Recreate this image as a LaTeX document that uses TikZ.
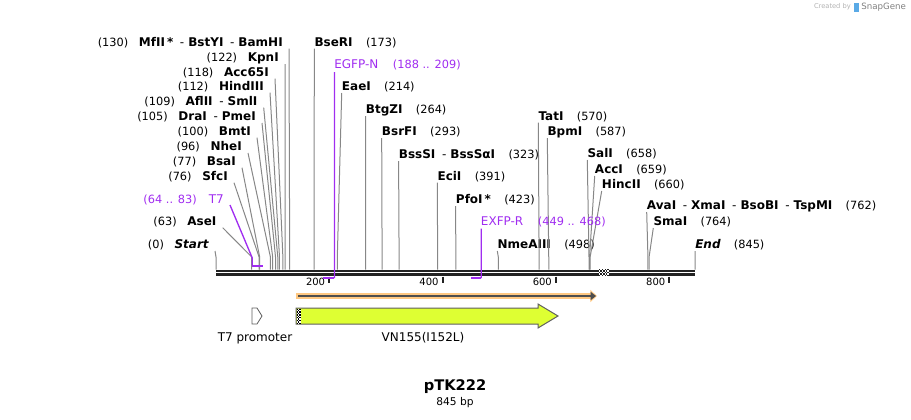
\documentclass[tikz,border=0pt]{standalone}
\usepackage{fontspec}
\setmainfont{DejaVu Sans}
\usepackage{tikz}
\usetikzlibrary{calc,arrows.meta,positioning}

\definecolor{cutgray}{RGB}{135,135,135}
\definecolor{bardark}{RGB}{34,34,34}
\definecolor{primer}{RGB}{160,45,240}
\definecolor{orangefeat}{RGB}{255,200,130}
\definecolor{limefeat}{RGB}{222,255,51}
\definecolor{featline}{RGB}{95,95,95}
\definecolor{sgblue}{RGB}{90,170,230}

\newcommand{\bpnum}[1]{{\fontsize{8.5}{10}\selectfont\mdseries\upshape(#1)}}
\newcommand{\dsep}{\hspace{5pt}\textmd{-}\hspace{3pt}}
% small checker cells, 1.4px each
\newcommand{\checkbox}[5]{%
    \fill[white] (#1,#2) rectangle ({#1+#3*1.4},{#2+#4*1.4});
    \foreach \i in {1,...,#3} {
        \foreach \j in {1,...,#4} {
            \pgfmathtruncatemacro\k{mod(\i+\j,2)}
            \ifnum\k=0
                \fill[#5] ({#1+(\i-1)*1.4},{#2+(\j-1)*1.4}) rectangle ++(1.4,1.4);
            \fi
        }
    }
}

\begin{document}
\begin{tikzpicture}[
    x=0.75pt, y=-0.75pt,
    declare function={bp(\p)=216+0.56686*\p;},
    enz/.style={inner sep=0pt, font=\fontsize{9}{10}\selectfont\bfseries},
    cutline/.style={draw=cutgray, line width=0.75pt},
    primlbl/.style={inner sep=0pt, text=primer, font=\fontsize{9}{10}\selectfont},
    primline/.style={draw=primer, line width=1pt},
    primbar/.style={draw=primer, line width=1.6pt},
    seqbar/.style={draw=bardark, line width=1.7pt},
    tick/.style={draw=bardark, line width=1.5pt},
    featlbl/.style={inner sep=0pt, font=\fontsize{9}{10}\selectfont}
]
    \useasboundingbox (0,0) rectangle (911,419);

    % sequence bar
    \coordinate (seqstart) at (216,271.2);
    \coordinate (seqend) at (695,271.2);
    \draw[seqbar] (seqstart) -- (seqend);
    \draw[seqbar] ($(seqstart)+(0,3.3)$) -- ($(seqend)+(0,3.3)$);
    \checkbox{599}{269}{7}{5}{bardark}

    % ruler
    \foreach \t in {200,400,600,800} {
        \coordinate (tick\t) at ({bp(\t)},276.5);
        \draw[tick] (tick\t) -- ++(0,6.5);
        \node[inner sep=0pt, anchor=east, font=\fontsize{7.5}{9}\selectfont]
            (ruler\t) at ($(tick\t)+(-4,5)$) {\t};
    }

    % cut sites, labels on the left
    \foreach \y/\rx/\p/\nm in {
        42.7/283/130/{MfII\,*\dsep BstYI\dsep BamHI},
        58/279/122/KpnI,
        72.7/269/118/Acc65I,
        86.7/264/112/HindIII,
        101.7/257.7/109/{AflII\dsep SmlI},
        117/256/105/{DraI\dsep PmeI},
        131.7/251/100/BmtI,
        147/242/96/NheI,
        161.7/236/77/BsaI,
        176.7/228/76/SfcI,
        221.7/216.7/63/AseI,
        245/209/0/{{\itshape Start}}} {
        \node[enz, anchor=east] (e\p) at (\rx,\y) {\bpnum{\p}\hspace{8pt}\nm};
        \coordinate (s\p) at ({bp(\p)},269.5);
        \draw[cutline] ($(e\p.east)+(6,6)$) -- ({bp(\p)},257) -- (s\p);
    }

    % cut sites, labels on the right
    \foreach \y/\lx/\p/\nm in {
        42.7/314.3/173/BseRI,
        87/341.7/214/EaeI,
        110/365.7/264/BtgZI,
        132/381.7/293/BsrFI,
        155/398.6/323/{BssSI\dsep BssSαI},
        176.7/437.3/391/EciI,
        200/455.7/423/{PfoI\,*},
        245/497.3/498/NmeAIII,
        116.7/538.3/570/TatI,
        132/547.3/587/BpmI,
        154/587.3/658/SalI,
        170/594.7/659/AccI,
        185/601.7/660/HincII,
        206/646.7/762/{AvaI\dsep XmaI\dsep BsoBI\dsep TspMI},
        222/653.3/764/SmaI,
        245/695/845/{{\itshape End}}} {
        \node[enz, anchor=west] (e\p) at (\lx,\y) {\nm\hspace{10pt}\bpnum{\p}};
        \coordinate (s\p) at ({bp(\p)},269.5);
        \draw[cutline] ($(e\p.west)+(0,6)$) -- ({bp(\p)},257) -- (s\p);
    }

    % primers
    \node[primlbl, anchor=east] (pT7) at (224,200)
        {{\fontsize{8.5}{10}\selectfont(64 .. 83)}\hspace{9pt}T7};
    \coordinate (pT7a) at ({bp(64)},266);
    \coordinate (pT7b) at ({bp(83)},266);
    \draw[primline] ($(pT7.east)+(6,5)$) -- ({bp(64)},258) -- (pT7a);
    \draw[primbar] (pT7a) -- (pT7b);

    \node[primlbl, anchor=west] (pEGFP) at (334,65)
        {EGFP-N\hspace{11pt}{\fontsize{8.5}{10}\selectfont(188 .. 209)}};
    \coordinate (pEGFPa) at ({bp(188)},278);
    \coordinate (pEGFPb) at ({bp(209)},278);
    \draw[primline] ($(pEGFP.west)+(0.5,7)$) -- (pEGFPb);
    \draw[primbar] (pEGFPb) -- (pEGFPa);

    \node[primlbl, anchor=west] (pEXFP) at (480.7,221.7)
        {EXFP-R\hspace{11pt}{\fontsize{8.5}{10}\selectfont(449 .. 468)}};
    \coordinate (pEXFPa) at ({bp(449)},278);
    \coordinate (pEXFPb) at ({bp(468)},278);
    \draw[primline] ($(pEXFP.west)+(0.5,7)$) -- (pEXFPb);
    \draw[primbar] (pEXFPb) -- (pEXFPa);

    % features
    \draw[orangefeat, line width=4.5pt, -{Triangle[length=5pt,width=9pt]}]
        (296,296) -- (597,296);
    \draw[bardark!80, line width=1.4pt, -{Triangle[length=4pt,width=6pt]}]
        (298,296) -- (596,296);

    \draw[featline, fill=white, line width=0.6pt]
        (252,308) -- (257,308) -- (262,316) -- (257,324) -- (252,324) -- cycle;
    \node[featlbl] (t7prom) at (255,338) {T7 promoter};

    \draw[featline, fill=limefeat, line width=0.75pt]
        (296,308) -- (538,308) -- (538,304) -- (558,316) -- (538,328)
        -- (538,324) -- (296,324) -- cycle;
    \checkbox{296.6}{308.6}{3}{11}{black}
    \node[featlbl] (vn155) at (423,338) {VN155(I152L)};

    % title
    \node[inner sep=0pt, font=\fontsize{11}{13}\selectfont\bfseries] (title) at (455,387) {pTK222};
    \node[inner sep=0pt, font=\fontsize{8}{10}\selectfont] (size) at (455,403) {845 bp};

    % credit
    \node[inner sep=0pt, anchor=east, text=black!30, font=\fontsize{5}{6}\selectfont]
        (credit) at (851,7) {Created by};
    \fill[sgblue] (854,2.5) rectangle (858.5,12);
    \node[inner sep=0pt, anchor=west, text=black!50, font=\fontsize{6.5}{8}\selectfont]
        (sglogo) at (861,7) {SnapGene};
\end{tikzpicture}
\end{document}
